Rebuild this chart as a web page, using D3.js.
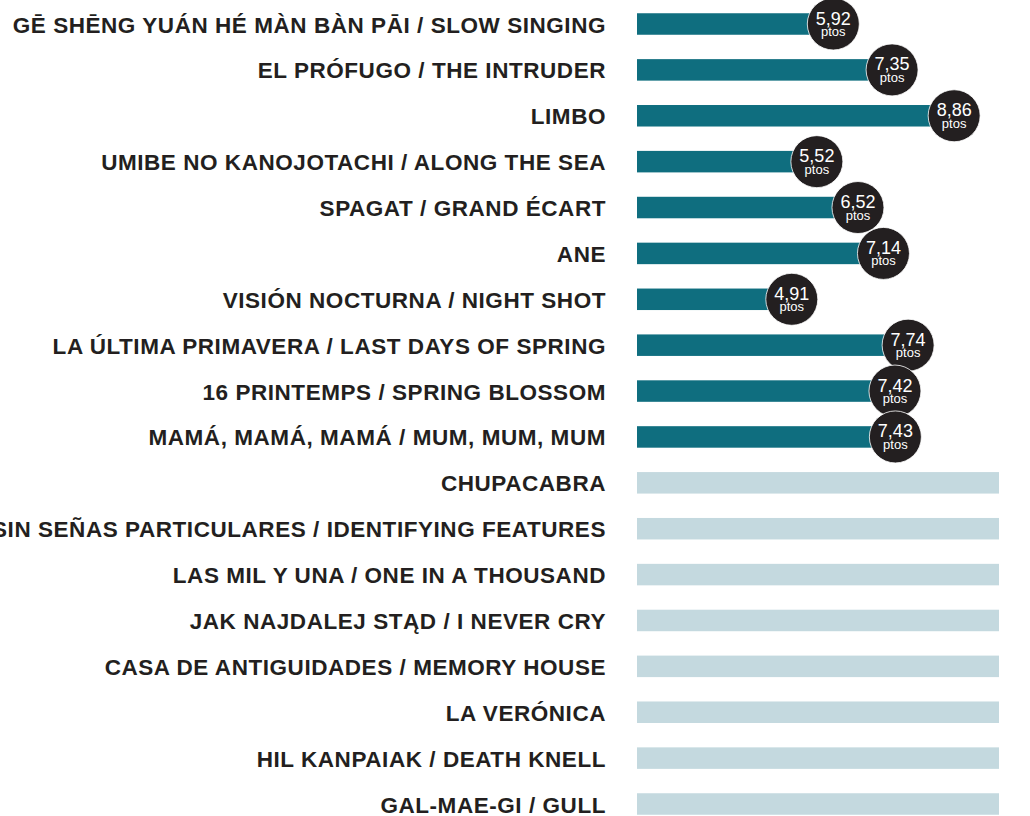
<!DOCTYPE html>
<html>
<head>
<meta charset="utf-8">
<script src="https://cdn.jsdelivr.net/npm/d3@7"></script>
<style>
  html, body { margin: 0; padding: 0; background: #ffffff; }
  svg { display: block; }
</style>
</head>
<body>
<svg id="chart" width="1030" height="816"></svg>
<script>
const films = [
  "GĒ SHĒNG YUÁN HÉ MÀN BÀN PĀI / SLOW SINGING",
  "EL PRÓFUGO / THE INTRUDER",
  "LIMBO",
  "UMIBE NO KANOJOTACHI / ALONG THE SEA",
  "SPAGAT / GRAND ÉCART",
  "ANE",
  "VISIÓN NOCTURNA / NIGHT SHOT",
  "LA ÚLTIMA PRIMAVERA / LAST DAYS OF SPRING",
  "16 PRINTEMPS / SPRING BLOSSOM",
  "MAMÁ, MAMÁ, MAMÁ / MUM, MUM, MUM",
  "CHUPACABRA",
  "SIN SEÑAS PARTICULARES / IDENTIFYING FEATURES",
  "LAS MIL Y UNA / ONE IN A THOUSAND",
  "JAK NAJDALEJ STĄD / I NEVER CRY",
  "CASA DE ANTIGUIDADES / MEMORY HOUSE",
  "LA VERÓNICA",
  "HIL KANPAIAK / DEATH KNELL",
  "GAL-MAE-GI / GULL"
];
const scores = [5.92, 7.35, 8.86, 5.52, 6.52, 7.14, 4.91, 7.74, 7.42, 7.43,
                null, null, null, null, null, null, null, null];
const unitLabel = "ptos";

const svg = d3.select("#chart");
const barLeft = 637, trackRight = 999, labelRight = 606;
const barH = 21.5, r = 26;

const y = d3.scalePoint().domain(films).range([24, 804]);
const x = d3.scaleLinear().domain([0, 10]).range([590, 1001]);

const fmt = d3.formatLocale({decimal: ",", thousands: ".", grouping: [3], currency: ["", "€"]}).format(".2f");

const data = films.map((f, i) => ({film: f, score: scores[i]}));

// labels
svg.append("g").selectAll("text").data(data).join("text")
  .attr("x", labelRight)
  .attr("y", d => y(d.film) + 8.5)
  .attr("text-anchor", "end")
  .attr("font-family", "'Liberation Sans', Arial, sans-serif")
  .attr("font-weight", "bold")
  .attr("font-size", 22.5)
  .attr("letter-spacing", 0.55)
  .attr("fill", "#231f20")
  .text(d => d.film);

// light tracks for films without score
svg.append("g").selectAll("rect").data(data.filter(d => d.score == null)).join("rect")
  .attr("x", barLeft)
  .attr("y", d => y(d.film) - barH / 2)
  .attr("width", trackRight - barLeft)
  .attr("height", barH)
  .attr("fill", "#c4d9df");

const scored = data.filter(d => d.score != null);

svg.append("g").selectAll("rect").data(scored).join("rect")
  .attr("x", barLeft)
  .attr("y", d => y(d.film) - barH / 2)
  .attr("width", d => x(d.score) - barLeft)
  .attr("height", barH)
  .attr("fill", "#0f6e7f");

const bubbles = svg.append("g").selectAll("g").data(scored).join("g")
  .attr("transform", d => `translate(${x(d.score)},${y(d.film)})`);

bubbles.append("circle")
  .attr("r", r)
  .attr("fill", "#231f20")
  .attr("stroke", "#ffffff")
  .attr("stroke-width", 0.8);

bubbles.append("text")
  .attr("y", 0.5)
  .attr("text-anchor", "middle")
  .attr("font-family", "'Liberation Sans', Arial, sans-serif")
  .attr("font-size", 18)
  .attr("fill", "#ffffff")
  .text(d => fmt(d.score));

bubbles.append("text")
  .attr("y", 12)
  .attr("text-anchor", "middle")
  .attr("font-family", "'Liberation Sans', Arial, sans-serif")
  .attr("font-size", 13)
  .attr("fill", "#ffffff")
  .text(unitLabel);
</script>
</body>
</html>
